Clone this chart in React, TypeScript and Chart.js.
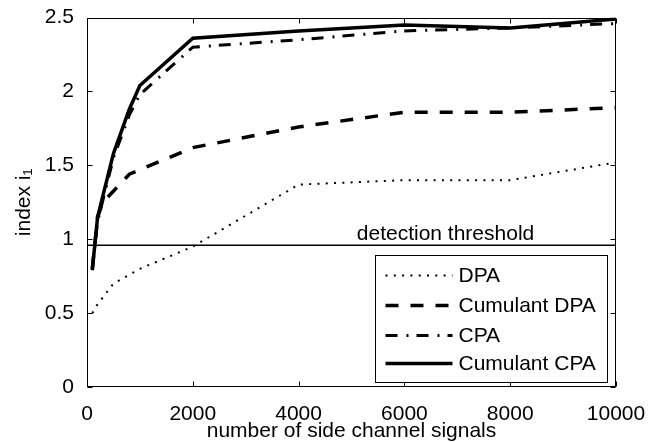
import React, { useEffect, useRef } from 'react';
import { Chart, registerables } from 'chart.js';

Chart.register(...registerables);

const FONT = "'Liberation Sans', Arial, Helvetica, sans-serif";
const FONT_SIZE = 21;

// axis ticks
const xTicks = [0, 2000, 4000, 6000, 8000, 10000];
const yTicks = [0, 0.5, 1, 1.5, 2, 2.5];

// series
const seriesLabels = ['DPA', 'Cumulant DPA', 'CPA', 'Cumulant CPA'];

const dpaX = [100, 200, 500, 1000, 2000, 4000, 6000, 8000, 10000];
const dpaY = [0.5, 0.56, 0.7, 0.8, 0.95, 1.37, 1.4, 1.4, 1.52];

const cumDpaX = [100, 200, 300, 800, 2000, 4000, 6000, 8000, 10000];
const cumDpaY = [0.8, 1.15, 1.25, 1.44, 1.62, 1.76, 1.86, 1.86, 1.89];

const cpaX = [100, 200, 500, 800, 1000, 2000, 4000, 6000, 8000, 10000];
const cpaY = [0.8, 1.12, 1.55, 1.84, 1.98, 2.3, 2.35, 2.41, 2.43, 2.46];

const cumCpaX = [100, 200, 500, 800, 1000, 2000, 4000, 6000, 8000, 10000];
const cumCpaY = [0.79, 1.15, 1.58, 1.88, 2.04, 2.36, 2.41, 2.45, 2.43, 2.49];

// detection threshold
const thresholdX = [0, 10000];
const thresholdY = [0.96, 0.96];
const thresholdLabel = 'detection threshold';
const thresholdLabelX = 5100;

const xTitle = 'number of side channel signals';
const yTitle = 'index i\u2081';

const toPoints = (xs: number[], ys: number[]) => xs.map((x, i) => ({ x, y: ys[i] }));

const framePlugin = {
  id: 'matlabFrame',
  beforeDatasetsDraw(chart: any) {
    const { ctx, chartArea: a, scales } = chart;
    const xs = scales.x;
    const ys = scales.y;
    const L = Math.round(a.left) + 0.5;
    const R = Math.round(a.right) - 0.5;
    const T = Math.round(a.top) + 0.5;
    const B = Math.round(a.bottom) - 0.5;
    ctx.save();
    ctx.strokeStyle = '#000';
    ctx.lineWidth = 1;
    ctx.setLineDash([]);
    ctx.strokeRect(L, T, R - L, B - T);
    const tl = 5;
    ctx.beginPath();
    xTicks.forEach((v) => {
      const px = Math.round(xs.getPixelForValue(v)) + 0.5;
      ctx.moveTo(px, B);
      ctx.lineTo(px, B - tl);
      ctx.moveTo(px, T);
      ctx.lineTo(px, T + tl);
    });
    yTicks.forEach((v) => {
      const py = Math.round(ys.getPixelForValue(v)) + 0.5;
      ctx.moveTo(L, py);
      ctx.lineTo(L + tl, py);
      ctx.moveTo(R, py);
      ctx.lineTo(R - tl, py);
    });
    ctx.stroke();
    ctx.restore();
  },
  afterDraw(chart: any) {
    const { ctx, chartArea: a, scales } = chart;
    ctx.save();
    ctx.fillStyle = '#000';
    ctx.font = `${FONT_SIZE}px ${FONT}`;
    // threshold label
    ctx.textAlign = 'left';
    ctx.textBaseline = 'alphabetic';
    ctx.fillText(
      thresholdLabel,
      scales.x.getPixelForValue(thresholdLabelX),
      scales.y.getPixelForValue(thresholdY[0]) - 5
    );
    // legend box
    const bw = 232;
    const bh = 127;
    const bx = Math.round(a.right - 9 - bw) + 0.5;
    const by = Math.round(a.bottom - 5 - bh) + 0.5;
    ctx.fillStyle = '#fff';
    ctx.fillRect(bx, by, bw, bh);
    ctx.strokeStyle = '#000';
    ctx.lineWidth = 1;
    ctx.setLineDash([]);
    ctx.strokeRect(bx, by, bw, bh);
    const rows = [20, 50, 80, 108];
    chart.data.datasets.slice(0, 4).forEach((ds: any, i: number) => {
      const y = by + rows[i];
      ctx.beginPath();
      ctx.strokeStyle = ds.borderColor;
      ctx.lineWidth = ds.borderWidth;
      ctx.lineCap = 'butt';
      ctx.setLineDash(ds.borderDash || []);
      ctx.moveTo(bx + 10, y);
      ctx.lineTo(bx + 77, y);
      ctx.stroke();
      ctx.setLineDash([]);
      ctx.fillStyle = '#000';
      ctx.textBaseline = 'middle';
      ctx.fillText(ds.label, bx + 83, y + 1);
    });
    ctx.restore();
  },
};

export default function App() {
  const canvasRef = useRef<HTMLCanvasElement | null>(null);

  useEffect(() => {
    document.body.style.margin = '0';
    const canvas = canvasRef.current;
    if (!canvas) return;
    Chart.defaults.color = '#000';
    Chart.defaults.font.family = FONT;
    Chart.defaults.font.size = FONT_SIZE;

    const common = { pointRadius: 0, pointHoverRadius: 0, tension: 0, fill: false, borderColor: '#000', borderCapStyle: 'butt' as const };

    const chart = new Chart(canvas, {
      type: 'line',
      data: {
        datasets: [
          { ...common, label: seriesLabels[0], data: toPoints(dpaX, dpaY), borderWidth: 2, borderDash: [2, 6.3] },
          { ...common, label: seriesLabels[1], data: toPoints(cumDpaX, cumDpaY), borderWidth: 3.5, borderDash: [13, 12] },
          { ...common, label: seriesLabels[2], data: toPoints(cpaX, cpaY), borderWidth: 3, borderDash: [12, 9, 2, 8] },
          { ...common, label: seriesLabels[3], data: toPoints(cumCpaX, cumCpaY), borderWidth: 3.5, borderDash: [] },
          { ...common, label: 'threshold', data: toPoints(thresholdX, thresholdY), borderWidth: 1.5, borderDash: [] },
        ],
      },
      options: {
        responsive: false,
        animation: false,
        devicePixelRatio: 1,
        layout: { padding: { left: 0, top: 12, right: 42, bottom: 0 } },
        plugins: { legend: { display: false }, tooltip: { enabled: false } },
        scales: {
          x: {
            type: 'linear',
            min: 0,
            max: 10000,
            afterFit: (s: any) => { s.height = 55; },
            afterBuildTicks: (s: any) => { s.ticks = xTicks.map((v) => ({ value: v })); },
            grid: { display: false },
            border: { display: false },
            ticks: { padding: 7, maxRotation: 0, callback: (v: any) => String(v), font: { size: FONT_SIZE } },
            title: { display: true, text: xTitle, font: { size: FONT_SIZE, lineHeight: 1 }, padding: { top: 0, bottom: 0 } },
          },
          y: {
            type: 'linear',
            min: 0,
            max: 2.5,
            afterFit: (s: any) => { s.width = 87; },
            afterBuildTicks: (s: any) => { s.ticks = yTicks.map((v) => ({ value: v })); },
            grid: { display: false },
            border: { display: false },
            ticks: { padding: 5, callback: (v: any) => String(v), font: { size: FONT_SIZE } },
            title: { display: true, text: yTitle, font: { size: FONT_SIZE, lineHeight: 1 }, padding: { top: 14, bottom: 0 } },
          },
        },
      },
      plugins: [framePlugin],
    });
    return () => chart.destroy();
  }, []);

  return (
    <div style={{ position: 'absolute', left: 0, top: 0, width: 658, height: 442 }}>
      <canvas ref={canvasRef} width={658} height={442} style={{ display: 'block', width: 658, height: 442 }} />
    </div>
  );
}
